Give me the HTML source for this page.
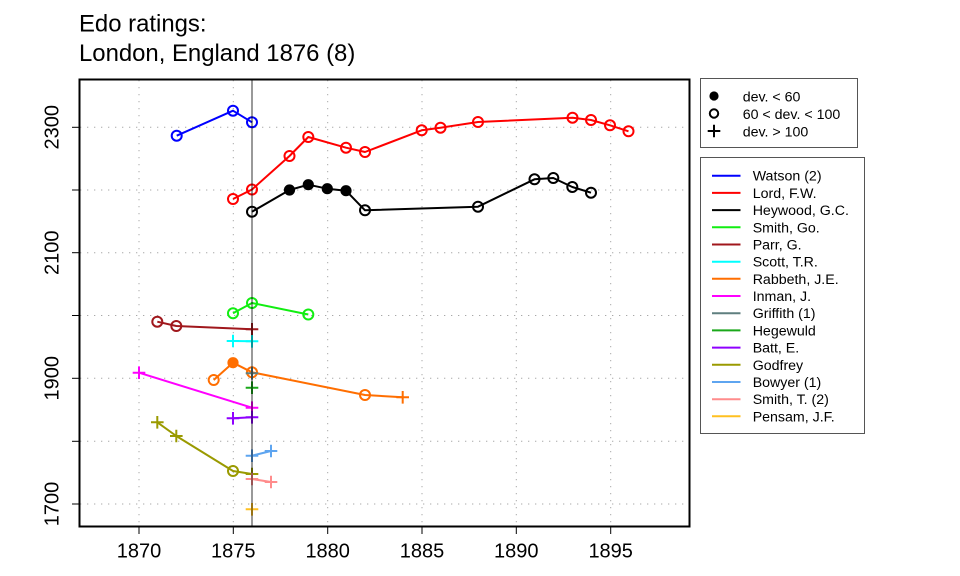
<!DOCTYPE html>
<html><head><meta charset="utf-8"><style>
html,body{margin:0;padding:0;background:#fff;}
svg{display:block;}
text{font-family:"Liberation Sans",Arial,sans-serif;fill:#000;}
</style></head><body>
<svg width="960" height="576" viewBox="0 0 960 576" xmlns="http://www.w3.org/2000/svg">
<rect width="960" height="576" fill="#fff"/>
<!-- title -->
<text x="79" y="31.7" font-size="23.9">Edo ratings:</text>
<text x="79" y="61" font-size="23.9">London, England 1876 (8)</text>

<!-- grid -->
<g stroke="#a8a8a8" stroke-width="1" stroke-dasharray="1.3 5.7" fill="none">
<line x1="80" y1="127.3" x2="689" y2="127.3"/>
<line x1="80" y1="190" x2="689" y2="190"/>
<line x1="80" y1="252.7" x2="689" y2="252.7"/>
<line x1="80" y1="315.5" x2="689" y2="315.5"/>
<line x1="80" y1="378.3" x2="689" y2="378.3"/>
<line x1="80" y1="441.3" x2="689" y2="441.3"/>
<line x1="80" y1="504" x2="689" y2="504"/>
<line x1="139" y1="80" x2="139" y2="526"/>
<line x1="233.3" y1="80" x2="233.3" y2="526"/>
<line x1="327.7" y1="80" x2="327.7" y2="526"/>
<line x1="422" y1="80" x2="422" y2="526"/>
<line x1="516.3" y1="80" x2="516.3" y2="526"/>
<line x1="610.7" y1="80" x2="610.7" y2="526"/>
</g>

<!-- series -->
<g stroke-width="2" fill="none" stroke-linejoin="round">
<!-- Watson -->
<g stroke="#0000ff">
<polyline points="176.7,135.7 233,110.7 252,122.3"/>
<circle cx="176.7" cy="135.7" r="5"/><circle cx="233" cy="110.7" r="5"/><circle cx="252" cy="122.3" r="5"/>
</g>
<!-- Lord -->
<g stroke="#ff0000">
<polyline points="233,199 252,189.5 289.5,156 308.3,137 346,147.7 365,152 421.7,130.3 440.5,127.7 478,122 572.5,117.7 591,120 610,125.3 628.5,131.3"/>
<circle cx="233" cy="199" r="5"/><circle cx="252" cy="189.5" r="5"/><circle cx="289.5" cy="156" r="5"/><circle cx="308.3" cy="137" r="5"/><circle cx="346" cy="147.7" r="5"/><circle cx="365" cy="152" r="5"/><circle cx="421.7" cy="130.3" r="5"/><circle cx="440.5" cy="127.7" r="5"/><circle cx="478" cy="122" r="5"/><circle cx="572.5" cy="117.7" r="5"/><circle cx="591" cy="120" r="5"/><circle cx="610" cy="125.3" r="5"/><circle cx="628.5" cy="131.3" r="5"/>
</g>
<!-- Heywood -->
<g stroke="#000">
<polyline points="252,211.7 289.5,190 308.3,184.7 327.3,188.7 346,190.7 365,210.3 478,206.7 534.5,179.3 553.3,178 572.3,187 591,192.7"/>
<circle cx="252" cy="211.7" r="5"/>
<circle cx="289.5" cy="190" r="4.6" fill="#000"/><circle cx="308.3" cy="184.7" r="4.6" fill="#000"/><circle cx="327.3" cy="188.7" r="4.6" fill="#000"/><circle cx="346" cy="190.7" r="4.6" fill="#000"/>
<circle cx="365" cy="210.3" r="5"/><circle cx="478" cy="206.7" r="5"/><circle cx="534.5" cy="179.3" r="5"/><circle cx="553.3" cy="178" r="5"/><circle cx="572.3" cy="187" r="5"/><circle cx="591" cy="192.7" r="5"/>
</g>
<!-- Smith Go -->
<g stroke="#11ee11">
<polyline points="233,313.3 252,303 308.3,314.5"/>
<circle cx="233" cy="313.3" r="5"/><circle cx="252" cy="303" r="5"/><circle cx="308.3" cy="314.5" r="5"/>
</g>
<!-- Parr -->
<g stroke="#a0171c">
<polyline points="157.3,321.7 176.3,326 252,329.3"/>
<circle cx="157.3" cy="321.7" r="5"/><circle cx="176.3" cy="326" r="5"/>
<path d="M245.7 329.3h12.6M252 323v12.6"/>
</g>
<!-- Scott -->
<g stroke="#00ffff">
<polyline points="233,341 252,341.3"/>
<path d="M226.7 341h12.6M233 334.7v12.6M245.7 341.3h12.6M252 335v12.6"/>
</g>
<!-- Rabbeth -->
<g stroke="#ff6e00">
<polyline points="213.7,380 233,362.7 252,372.3 365,395 402.7,397.3"/>
<circle cx="213.7" cy="380" r="5"/>
<circle cx="233" cy="362.7" r="4.6" fill="#ff6e00"/>
<circle cx="252" cy="372.3" r="5"/><circle cx="365" cy="395" r="5"/>
<path d="M396.4 397.3h12.6M402.7 391v12.6"/>
</g>
<!-- Inman -->
<g stroke="#ff00ff">
<polyline points="139,372.7 252,407.7"/>
<path d="M132.7 372.7h12.6M139 366.4v12.6M245.7 407.7h12.6M252 401.4v12.6"/>
</g>
<!-- Griffith -->
<g stroke="#5f7f7f"><path d="M245.7 373.3h12.6M252 367v12.6"/></g>
<!-- Hegewuld -->
<g stroke="#1aa81a"><path d="M245.7 387.7h12.6M252 381.4v12.6"/></g>
<!-- Batt -->
<g stroke="#8f00ff">
<polyline points="233,418.3 252,417.3"/>
<path d="M226.7 418.3h12.6M233 412v12.6M245.7 417.3h12.6M252 411v12.6"/>
</g>
<!-- Godfrey -->
<g stroke="#9a9a00">
<polyline points="157.3,422.3 176.3,436 233,471 252,474"/>
<path d="M151 422.3h12.6M157.3 416v12.6M170 436h12.6M176.3 429.7v12.6"/>
<circle cx="233" cy="471" r="5"/>
<path d="M245.7 474h12.6M252 467.7v12.6"/>
</g>
<!-- Bowyer -->
<g stroke="#5ea5f0">
<polyline points="252,455.7 271,451"/>
<path d="M245.7 455.7h12.6M252 449.4v12.6M264.7 451h12.6M271 444.7v12.6"/>
</g>
<!-- Smith T -->
<g stroke="#ff8c8c">
<polyline points="252,479 271,482"/>
<path d="M245.7 479h12.6M252 472.7v12.6M264.7 482h12.6M271 475.7v12.6"/>
</g>
<!-- Pensam -->
<g stroke="#ffc020"><path d="M245.7 509.3h12.6M252 503v12.6"/></g>
</g>

<!-- vertical 1876 line -->
<line x1="252" y1="80" x2="252" y2="526" stroke="rgba(0,0,0,0.4)" stroke-width="2"/>

<!-- box -->
<rect x="79.5" y="79.5" width="610" height="447" fill="none" stroke="#000" stroke-width="2"/>

<!-- ticks -->
<g stroke="#000" stroke-width="1">
<line x1="72" y1="127.3" x2="79" y2="127.3"/>
<line x1="72" y1="190" x2="79" y2="190"/>
<line x1="72" y1="252.7" x2="79" y2="252.7"/>
<line x1="72" y1="315.5" x2="79" y2="315.5"/>
<line x1="72" y1="378.3" x2="79" y2="378.3"/>
<line x1="72" y1="441.3" x2="79" y2="441.3"/>
<line x1="72" y1="504" x2="79" y2="504"/>
<line x1="139" y1="527" x2="139" y2="534"/>
<line x1="233.3" y1="527" x2="233.3" y2="534"/>
<line x1="327.7" y1="527" x2="327.7" y2="534"/>
<line x1="422" y1="527" x2="422" y2="534"/>
<line x1="516.3" y1="527" x2="516.3" y2="534"/>
<line x1="610.7" y1="527" x2="610.7" y2="534"/>
</g>
<g font-size="20" text-anchor="middle">
<text transform="translate(58.3,127.3) rotate(-90)">2300</text>
<text transform="translate(58.3,252.7) rotate(-90)">2100</text>
<text transform="translate(58.3,378.3) rotate(-90)">1900</text>
<text transform="translate(58.3,504) rotate(-90)">1700</text>
<text x="139" y="557.3">1870</text>
<text x="233.3" y="557.3">1875</text>
<text x="327.7" y="557.3">1880</text>
<text x="422" y="557.3">1885</text>
<text x="516.3" y="557.3">1890</text>
<text x="610.7" y="557.3">1895</text>
</g>

<!-- legend 1 -->
<rect x="700.5" y="78.5" width="157" height="69" fill="#fff" stroke="#555" stroke-width="1"/>
<circle cx="714" cy="96" r="4.6" fill="#000"/>
<circle cx="714" cy="113.5" r="4.2" fill="none" stroke="#000" stroke-width="2"/>
<path d="M707.7 131h12.6M714 124.7v12.6" stroke="#000" stroke-width="2"/>
<g font-size="14.2">
<text x="742.7" y="101.5">dev. &lt; 60</text>
<text x="742.7" y="119">60 &lt; dev. &lt; 100</text>
<text x="742.7" y="136.3">dev. &gt; 100</text>
</g>

<!-- legend 2 -->
<rect x="700.5" y="157.5" width="164" height="276" fill="#fff" stroke="#555" stroke-width="1"/>
<g stroke-width="2">
<line x1="712" y1="175.7" x2="740.5" y2="175.7" stroke="#0000ff"/>
<line x1="712" y1="192.9" x2="740.5" y2="192.9" stroke="#ff0000"/>
<line x1="712" y1="210.1" x2="740.5" y2="210.1" stroke="#000"/>
<line x1="712" y1="227.3" x2="740.5" y2="227.3" stroke="#11ee11"/>
<line x1="712" y1="244.5" x2="740.5" y2="244.5" stroke="#a0171c"/>
<line x1="712" y1="261.7" x2="740.5" y2="261.7" stroke="#00ffff"/>
<line x1="712" y1="278.8" x2="740.5" y2="278.8" stroke="#ff6e00"/>
<line x1="712" y1="296" x2="740.5" y2="296" stroke="#ff00ff"/>
<line x1="712" y1="313.2" x2="740.5" y2="313.2" stroke="#5f7f7f"/>
<line x1="712" y1="330.4" x2="740.5" y2="330.4" stroke="#1aa81a"/>
<line x1="712" y1="347.6" x2="740.5" y2="347.6" stroke="#8f00ff"/>
<line x1="712" y1="364.8" x2="740.5" y2="364.8" stroke="#9a9a00"/>
<line x1="712" y1="382" x2="740.5" y2="382" stroke="#5ea5f0"/>
<line x1="712" y1="399.2" x2="740.5" y2="399.2" stroke="#ff8c8c"/>
<line x1="712" y1="416.3" x2="740.5" y2="416.3" stroke="#ffc020"/>
</g>
<g font-size="14.2">
<text x="752.7" y="180.7">Watson (2)</text>
<text x="752.7" y="197.9">Lord, F.W.</text>
<text x="752.7" y="215.1">Heywood, G.C.</text>
<text x="752.7" y="232.3">Smith, Go.</text>
<text x="752.7" y="249.5">Parr, G.</text>
<text x="752.7" y="266.7">Scott, T.R.</text>
<text x="752.7" y="283.8">Rabbeth, J.E.</text>
<text x="752.7" y="301">Inman, J.</text>
<text x="752.7" y="318.2">Griffith (1)</text>
<text x="752.7" y="335.4">Hegewuld</text>
<text x="752.7" y="352.6">Batt, E.</text>
<text x="752.7" y="369.8">Godfrey</text>
<text x="752.7" y="387">Bowyer (1)</text>
<text x="752.7" y="404.2">Smith, T. (2)</text>
<text x="752.7" y="421.3">Pensam, J.F.</text>
</g>
</svg>
</body></html>
